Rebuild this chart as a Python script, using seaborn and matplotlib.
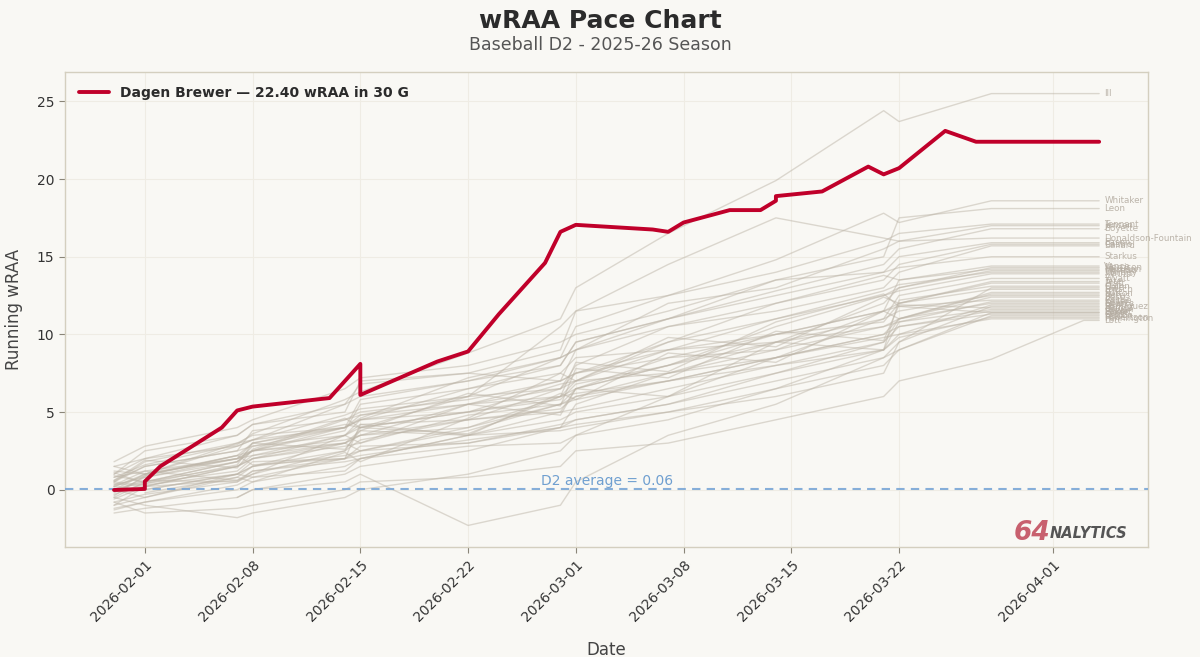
import matplotlib
matplotlib.use("Agg")
import matplotlib.pyplot as plt
import matplotlib.dates as mdates
import numpy as np
import pandas as pd
import seaborn as sns

# ---------------- data ----------------
TITLE = "wRAA Pace Chart"
SUBTITLE = "Baseball D2 - 2025-26 Season"
PLAYER = "Dagen Brewer"
PLAYER_TOTAL = 22.40
PLAYER_GAMES = 30
LEAGUE_AVG = 0.06
END_DATE = "2026-04-04"

red_dates = ["2026-01-30", "2026-02-01", "2026-02-01", "2026-02-02", "2026-02-06",
             "2026-02-07", "2026-02-08", "2026-02-13", "2026-02-15", "2026-02-15",
             "2026-02-20", "2026-02-22", "2026-02-24", "2026-02-27", "2026-02-28",
             "2026-03-01", "2026-03-06", "2026-03-07", "2026-03-08", "2026-03-11",
             "2026-03-13", "2026-03-14", "2026-03-14", "2026-03-17", "2026-03-20",
             "2026-03-21", "2026-03-22", "2026-03-25", "2026-03-27"]
red_values = [-0.02, 0.05, 0.53, 1.5, 4.0,
              5.1, 5.35, 5.9, 8.1, 6.1,
              8.25, 8.9, 11.3, 14.6, 16.6,
              17.05, 16.75, 16.6, 17.2, 18.0,
              18.0, 18.6, 18.9, 19.2, 20.8,
              20.3, 20.7, 23.1, 22.4]

gray_dates = ["2026-01-30", "2026-02-01", "2026-02-07", "2026-02-08", "2026-02-14",
              "2026-02-15", "2026-02-22", "2026-02-28", "2026-03-01", "2026-03-07",
              "2026-03-14", "2026-03-21", "2026-03-22", "2026-03-28"]

III = [0.8, 1.6, 2.9, 3.6, 5.8, 6.3, 8.8, 11.0, 13.0, 16.5, 19.9, 24.4, 23.7, 25.5]
Whitaker = [0.2, 0.9, 2.2, 3.0, 4.0, 4.6, 7.2, 8.5, 10.5, 12.5, 14.8, 17.8, 17.2, 18.6]
Leon = [-0.5, 0.5, 1.8, 2.5, 3.8, 5.5, 6.5, 8.0, 9.5, 11.0, 13.5, 15.0, 17.5, 18.1]
Tennant = [1.5, 2.0, 3.5, 4.2, 5.0, 7.0, 7.5, 9.0, 11.5, 12.5, 14.0, 16.0, 16.5, 17.1]
Jensen = [0.0, -0.5, 1.0, 1.5, 3.0, 3.5, 5.5, 7.0, 9.0, 12.0, 13.0, 15.5, 16.0, 17.0]
Boyette = [0.5, 1.5, 2.5, 3.8, 4.5, 4.8, 6.0, 8.5, 9.0, 11.0, 12.8, 14.5, 15.5, 16.8]
Donaldson_Fountain = [-1.0, 0.2, 1.5, 2.2, 3.5, 4.0, 6.0, 10.5, 11.5, 14.5, 17.5, 16.2, 16.0, 16.2]
Eason = [1.8, 2.8, 4.0, 4.5, 6.5, 7.2, 8.0, 9.5, 10.0, 11.5, 13.5, 14.0, 15.0, 15.9]
Castro = [0.3, 0.8, 2.0, 2.5, 4.5, 5.0, 5.8, 7.0, 7.5, 9.5, 12.0, 13.5, 14.5, 15.8]
Ballard = [-0.8, -0.3, 0.5, 1.0, 2.5, 3.2, 4.5, 6.5, 8.0, 10.5, 11.5, 13.0, 14.0, 15.7]
Starkus = [1.2, 1.0, 3.0, 3.2, 5.5, 6.0, 7.0, 8.0, 9.5, 11.0, 12.5, 14.0, 14.3, 15.0]
Vance = [0.0, 1.0, 2.0, 2.5, 4.0, 5.8, 7.0, 8.5, 9.0, 10.5, 12.0, 13.8, 13.5, 14.4]
Morrison = [0.0, 0.5, 1.5, 2.0, 3.0, 3.5, 4.0, 5.5, 6.0, 7.5, 9.5, 12.0, 13.0, 14.3]
Harrison = [0.5, 1.8, 3.0, 3.5, 4.0, 4.5, 5.5, 6.5, 7.5, 8.5, 10.0, 11.5, 13.5, 14.2]
Moreno = [-1.2, -0.8, 0.0, 0.5, 1.5, 2.0, 3.5, 5.0, 6.5, 8.0, 10.5, 12.5, 13.0, 14.1]
Whitley = [1.0, 2.5, 3.5, 4.2, 5.5, 6.8, 7.5, 7.0, 7.5, 9.0, 11.0, 12.8, 13.2, 14.0]
Mathis = [0.2, 0.0, 1.0, 0.8, 2.0, 2.5, 4.0, 6.0, 7.0, 9.5, 11.0, 12.5, 12.8, 13.9]
Wyatt = [-0.3, 0.4, 1.2, 2.0, 2.8, 3.0, 4.8, 5.5, 5.8, 7.0, 8.5, 11.0, 12.5, 13.6]
Tate = [None, -0.2, 0.8, 0.5, 2.4, 1.8, 4.6, 7.5, 7.0, 9.8, 9.2, 12.4, 12.0, 13.4]
Pratt = [0.8, 1.2, 2.0, 3.0, 4.2, 4.0, 5.0, 6.0, 6.5, 8.0, 10.0, 10.8, 12.0, 13.3]
Quinn = [0.3, 1.2, 0.6, 1.0, 3.5, 3.0, 5.5, 4.8, 6.5, 6.0, 9.5, 9.0, 12.2, 13.1]
Hale = [-0.6, 0.2, 0.6, 1.2, 1.8, 2.0, 3.5, 3.8, 4.0, 5.0, 6.0, 7.5, 9.5, 13.0]
Fritsch = [-1.5, -1.2, -0.5, 0.0, 1.0, 1.5, 2.5, 4.0, 5.5, 7.5, 9.0, 11.5, 12.0, 12.9]
Fisk = [0.6, 1.5, 2.5, 2.8, 3.5, 4.2, 4.5, 5.0, 5.2, 6.5, 8.0, 9.5, 11.0, 12.7]
Sutton = [-0.4, 0.9, 2.2, 1.6, 2.0, 4.2, 3.5, 6.2, 5.8, 8.8, 8.2, 11.5, 11.0, 12.6]
Norris = [0.9, 0.5, 1.8, 2.8, 4.0, 4.5, 5.0, 5.8, 6.8, 8.0, 9.5, 11.0, 11.5, 12.5]
Bass = [None, 0.0, 1.0, 1.5, 2.5, 4.0, 5.0, 6.8, 7.0, 9.0, 9.5, 10.5, 11.0, 12.4]
Castle = [0.4, 0.2, 1.5, 2.0, 3.5, 4.5, 6.5, 7.5, 8.5, 9.0, 10.0, 11.5, 11.8, 12.2]
Keller = [-1.3, -0.8, 0.3, 0.8, 1.2, 2.0, 2.8, 3.0, 3.5, 4.5, 6.5, 9.0, 10.8, 12.1]
Sparks = [-0.5, -1.0, -1.8, -1.5, -0.5, 0.0, 1.0, 2.5, 3.5, 6.0, 8.5, 10.0, 11.0, 12.0]
Gentry = [1.5, 1.0, 2.2, 2.5, 3.0, 3.8, 3.5, 4.5, 5.0, 6.0, 7.5, 9.0, 10.0, 11.9]
Rodriguez = [0.0, 0.6, 0.5, 1.2, 2.0, 2.8, 3.0, 4.2, 4.5, 5.5, 7.0, 8.5, 9.5, 11.8]
Ramos = [1.1, 0.4, 1.6, 3.0, 2.6, 3.8, 6.2, 5.4, 7.8, 7.2, 10.2, 9.6, 11.9, 11.7]
Bowen = [-1.0, -0.5, 0.8, 1.5, 2.2, 2.5, 3.8, 5.5, 6.5, 8.5, 9.0, 10.5, 10.8, 11.6]
Baker = [0.2, 1.0, 2.8, 3.2, 4.8, 5.2, 6.0, 6.5, 7.0, 7.5, 8.5, 10.0, 10.5, 11.5]
Eckert = [None, None, -0.5, 0.0, 0.5, 1.0, -2.3, -1.0, 0.5, 3.5, 5.5, 8.5, 9.0, 11.4]
Wolfe = [0.6, 1.9, 1.4, 2.6, 4.6, 4.0, 3.6, 6.0, 8.2, 7.6, 10.8, 12.6, 11.8, 11.4]
Ortiz = [None, 1.0, 2.0, 2.2, 3.0, 2.5, 3.0, 4.0, 4.5, 5.5, 7.5, 9.5, 10.5, 11.3]
Dalton = [0.5, 0.3, 1.0, 1.8, 2.0, 2.2, 3.2, 4.0, 4.2, 5.0, 6.5, 8.0, 9.0, 11.2]
Robertson = [-0.2, 0.8, 1.8, 2.5, 3.2, 3.5, 4.5, 5.2, 6.0, 7.0, 8.0, 9.0, 9.8, 11.1]
Pennington = [1.0, 2.0, 2.8, 3.2, 4.0, 4.8, 5.5, 6.0, 6.2, 7.0, 8.5, 9.8, 10.0, 11.0]
Lott = [-0.8, -1.5, -1.2, -1.0, 0.0, 0.5, 0.8, 1.5, 2.5, 3.0, 4.5, 6.0, 7.0, 8.4]

late_names = ["Lott"]
late_dates = ["2026-04-03"]
late_values = [10.9]

gray_players = {
    "III": III, "Whitaker": Whitaker, "Leon": Leon, "Tennant": Tennant,
    "Jensen": Jensen, "Boyette": Boyette, "Donaldson-Fountain": Donaldson_Fountain,
    "Eason": Eason, "Castro": Castro, "Ballard": Ballard, "Starkus": Starkus,
    "Vance": Vance, "Morrison": Morrison, "Harrison": Harrison, "Moreno": Moreno,
    "Whitley": Whitley, "Mathis": Mathis, "Wyatt": Wyatt, "Tate": Tate,
    "Pratt": Pratt, "Quinn": Quinn, "Hale": Hale, "Fritsch": Fritsch,
    "Fisk": Fisk, "Sutton": Sutton, "Norris": Norris, "Bass": Bass,
    "Castle": Castle, "Keller": Keller, "Sparks": Sparks, "Gentry": Gentry,
    "Rodriguez": Rodriguez, "Ramos": Ramos, "Bowen": Bowen, "Baker": Baker,
    "Eckert": Eckert, "Wolfe": Wolfe, "Ortiz": Ortiz, "Dalton": Dalton,
    "Robertson": Robertson, "Pennington": Pennington, "Lott": Lott,
}

# ---------------- build tables ----------------
rows = []
last_vals = {}
for name, vals in gray_players.items():
    pts = [(d, v) for d, v in zip(gray_dates, vals) if v is not None]
    for lname, ld, lv in zip(late_names, late_dates, late_values):
        if lname == name:
            pts.append((ld, lv))
    pts.append((END_DATE, pts[-1][1]))
    for order, (d, v) in enumerate(pts):
        rows.append({"player": name, "date": pd.Timestamp(d), "wRAA": v, "order": order})
    last_vals[name] = pts[-1][1]
gray_df = pd.DataFrame(rows)

red_df = pd.DataFrame({
    "date": pd.to_datetime(red_dates + [END_DATE]),
    "wRAA": red_values + [red_values[-1]],
})
red_df["order"] = np.arange(len(red_df))

# ---------------- style ----------------
BG = "#f9f8f4"
sns.set_style("white")
plt.rcParams["font.family"] = ["DejaVu Sans"]

fig = plt.figure(figsize=(12, 6.57), dpi=100, facecolor=BG)
ax = fig.add_axes([0.054, 0.1674, 0.903, 0.723])
ax.set_facecolor(BG)

sns.lineplot(data=gray_df, x="date", y="wRAA", units="player", estimator=None,
             sort=False, color="#bdb5a8", alpha=0.5, linewidth=1.0, ax=ax,
             legend=False)

sns.lineplot(data=red_df, x="date", y="wRAA", estimator=None, sort=False,
             color="#c0002a", linewidth=2.8, ax=ax,
             label=f"{PLAYER} \u2014 {PLAYER_TOTAL:.2f} wRAA in {PLAYER_GAMES} G",
             zorder=5)

ax.axhline(LEAGUE_AVG, color="#7aa6d6", linestyle=(0, (4, 3)), linewidth=1.5,
           alpha=0.9, zorder=3)
all_dates = pd.to_datetime(red_dates + gray_dates + [END_DATE])
mid = all_dates.min() + (pd.Timestamp(END_DATE) - all_dates.min()) / 2
ax.text(mid, LEAGUE_AVG + 0.04, f"D2 average = {LEAGUE_AVG:.2f}", color="#6f9fd0",
        fontsize=10, ha="center", va="bottom", zorder=6)

end_ts = pd.Timestamp(END_DATE) + pd.Timedelta(hours=8)
for name, v in last_vals.items():
    ax.text(end_ts, v, name, fontsize=6.3, color="#b5ada2", va="center",
            ha="left", alpha=0.9)

ax.xaxis.set_major_locator(mdates.DayLocator(bymonthday=[1, 8, 15, 22]))
ax.xaxis.set_major_formatter(mdates.DateFormatter("%Y-%m-%d"))
plt.setp(ax.get_xticklabels(), rotation=45, ha="right", rotation_mode="anchor")
ax.tick_params(axis="both", labelsize=10, colors="#333333", length=4, width=0.8,
               direction="out", bottom=True, left=True)
for lab in ax.get_xticklabels() + ax.get_yticklabels():
    lab.set_color("#333333")
ax.tick_params(axis="both", color="#8a8578")

ax.grid(True, color="#efece4", linewidth=0.8)
for sp in ax.spines.values():
    sp.set_color("#d4cfbf")
    sp.set_linewidth(1.0)

ax.set_xlabel("Date", fontsize=12, color="#444444", labelpad=12)
ax.set_ylabel("Running wRAA", fontsize=12, color="#444444", labelpad=10)

leg = ax.legend(loc="upper left", frameon=False, fontsize=10,
                handlelength=2.2, borderaxespad=0.6)
for t in leg.get_texts():
    t.set_fontweight("bold")
    t.set_color("#2b2b2b")

fig.text(0.5, 0.968, TITLE, ha="center", va="center", fontsize=18,
         fontweight="bold", color="#2b2b2b")
fig.text(0.5, 0.931, SUBTITLE, ha="center", va="center", fontsize=12.5,
         color="#555555")

# logo
fig.text(0.845, 0.178, "64", fontsize=19, fontweight="bold", fontstyle="italic",
         color="#c8606e", ha="left", va="baseline")
fig.text(0.875, 0.181, "NALYTICS", fontsize=10.5, fontweight="bold",
         fontstyle="italic", color="#555555", ha="left", va="baseline")

fig.savefig("out.png", dpi=100, facecolor=BG)
